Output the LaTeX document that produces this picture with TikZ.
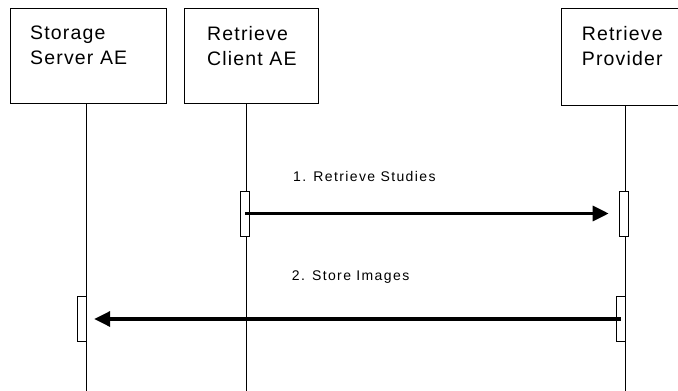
\documentclass[tikz,border=0pt]{standalone}
\usepackage{fontspec}
\setmainfont{Liberation Sans}
\newfontfamily\headfont[LetterSpace=6]{Liberation Sans}
\newfontfamily\msgfont[LetterSpace=10]{Liberation Sans}
\usetikzlibrary{arrows.meta}
\usetikzlibrary{positioning}

\begin{document}
\begin{tikzpicture}[x=1pt, y=-1pt,
    headbox/.style={draw, line width=1pt, anchor=north west, minimum width=#1, minimum height=95pt, inner sep=0pt},
    headtext/.style={align=left, inner sep=0pt, font=\headfont\fontsize{19.5}{25}\selectfont},
    actbox/.style={draw, fill=white, line width=1pt, minimum width=9pt, minimum height=45pt, inner sep=0pt},
    lifeline/.style={line width=1pt},
    msg/.style={line width=3.3pt, -{Triangle[length=16pt, width=15pt]}},
    msgtext/.style={anchor=base west, inner sep=0pt, font=\msgfont\fontsize{14}{16}\selectfont}]

    % fix the margins
    \useasboundingbox (0,0) rectangle (678,391);

    % header boxes
    \node[headbox=156pt] (storage) at (10,8) {};
    \node[headbox=134pt] (client) at (184,8) {};
    \node[headbox=130pt, minimum height=97pt] (provider) at (560.7,8) {};

    % header texts
    \node[headtext, below right=18pt and 20pt of storage.north west] (storage-txt) {Storage\\Server AE};
    \node[headtext, below right=18pt and 23pt of client.north west] (client-txt) {Retrieve\\Client AE};
    \node[headtext, below right=18pt and 21pt of provider.north west] (provider-txt) {Retrieve\\Provider};

    % lifelines
    \coordinate (storage-end) at (86.7,391);
    \coordinate (client-end) at (246,391);
    \coordinate (provider-end) at (625.7,391);
    \draw[lifeline] (storage.south -| storage-end) -- (storage-end);
    \draw[lifeline] (client.south -| client-end) -- (client-end);
    \draw[lifeline] (provider.south -| provider-end) -- (provider-end);

    % activation boxes
    \node[actbox] (client-act) at (245.4,213.5) {};
    \node[actbox] (provider-act1) at (623.7,213.5) {};
    \node[actbox] (storage-act) at (82.2,319) {};
    \node[actbox] (provider-act2) at (620.8,319) {};

    % messages
    \draw[msg] (client-act.center) -- ([xshift=-10pt]provider-act1.west);
    \draw[msg] (provider-act2.center) -- ([xshift=7pt]storage-act.east);

    % message labels
    \node[msgtext] (msg1-txt) at (293,181.7) {1. Retrieve Studies};
    \node[msgtext] (msg2-txt) at (291.7,280.7) {2. Store Images};

\end{tikzpicture}
\end{document}
